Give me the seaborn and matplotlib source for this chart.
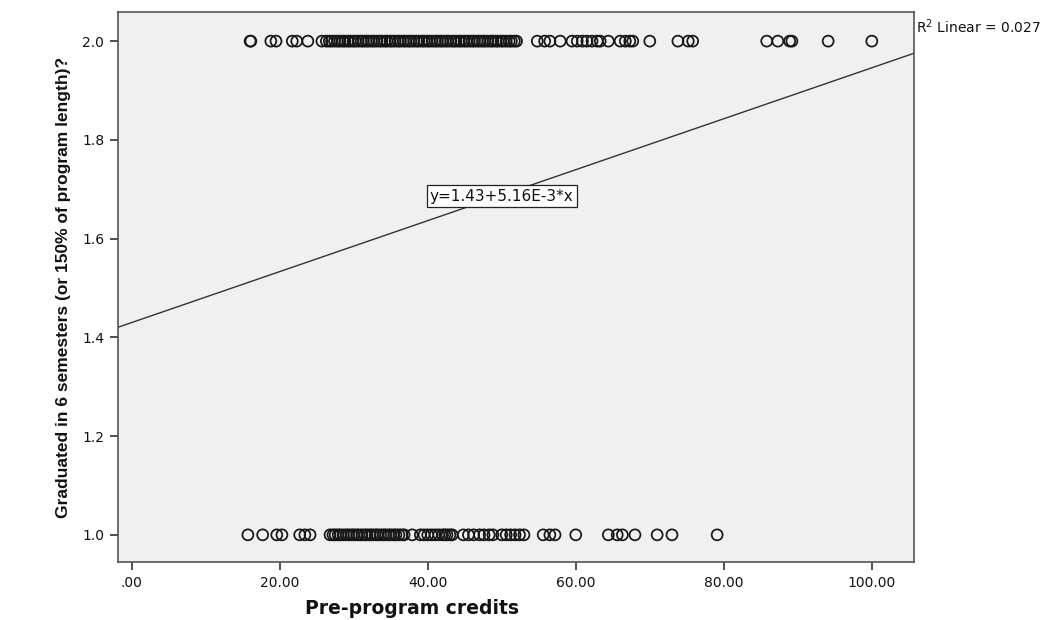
import matplotlib
matplotlib.use("Agg")
import matplotlib.pyplot as plt
from matplotlib import font_manager
import numpy as np
import pandas as pd
import seaborn as sns

# Pre-program credits of students who did not graduate within 150% of program length (coded 2)
credits_not_grad = [
    16.0, 16.1, 18.8, 19.5, 21.7, 22.3, 23.8, 25.7,
    26.3, 26.7, 27.0, 27.4, 27.8, 28.1, 28.5, 28.8, 29.2, 29.5, 29.9, 30.2, 30.6,
    31.0, 31.3, 31.7, 32.0, 32.4, 32.7, 33.1, 33.5, 33.8, 34.2, 34.5, 34.9, 35.2,
    35.6, 36.0, 36.3, 36.7, 37.0, 37.4, 37.7, 38.1, 38.5, 38.8, 39.2, 39.5, 39.9,
    40.2, 40.6, 41.0, 41.3, 41.7, 42.0, 42.4, 42.7, 43.1, 43.5, 43.8, 44.2, 44.5,
    44.9, 45.2, 45.6, 46.0, 46.3, 46.7, 47.0, 47.4, 47.7, 48.1, 48.5, 48.8, 49.2,
    49.5, 49.9, 50.2, 50.6, 51.0, 51.3, 51.7, 52.0,
    54.8, 55.8, 56.5, 57.9, 59.5, 60.2, 60.9, 61.5, 62.2, 62.9, 63.3, 64.4,
    66.0, 66.7, 67.3, 67.7, 70.0, 73.8, 75.2, 75.8, 85.8, 87.3, 88.9, 89.2,
    94.1, 100.0,
]

# Pre-program credits of students who graduated within 6 semesters (coded 1)
credits_grad = [
    15.7, 17.7, 19.6, 20.3, 22.7, 23.4, 24.1,
    26.8, 27.2, 27.5, 27.9, 28.2, 28.6, 29.0, 29.3, 29.7, 30.0, 30.4, 30.7, 31.1,
    31.5, 31.8, 32.2, 32.5, 32.9, 33.2, 33.6, 34.0, 34.3, 34.7, 35.0, 35.4, 35.7,
    36.1, 36.5, 36.8,
    37.9, 39.0, 39.5, 40.0, 40.5, 41.0, 41.5, 42.0, 42.3, 42.6, 43.0, 43.3,
    44.8, 45.5, 46.2, 47.0, 47.6, 48.3, 48.8,
    50.0, 50.6, 51.2, 51.8, 52.4, 53.0,
    55.6, 56.5, 57.2, 60.0, 64.4, 65.6, 66.3, 68.0, 71.0, 73.0, 79.1,
]

# Linear fit reported for the data
fit_intercept = 1.43
fit_slope = 5.16e-3
fit_r2 = 0.027

x_ticks = [0, 20, 40, 60, 80, 100]
x_tick_labels = [".00", "20.00", "40.00", "60.00", "80.00", "100.00"]
y_ticks = [1.0, 1.2, 1.4, 1.6, 1.8, 2.0]

df = pd.DataFrame({
    "credits": credits_not_grad + credits_grad,
    "graduated": [2.0] * len(credits_not_grad) + [1.0] * len(credits_grad),
})

sns.set_theme(style="white")
available = {f.name for f in font_manager.fontManager.ttflist}
plt.rcParams["font.family"] = ["DejaVu Sans"]
narrow = "Liberation Sans Narrow" if "Liberation Sans Narrow" in available else "Liberation Sans"

fig = plt.figure(figsize=(10.62, 6.2), dpi=100)
ax = fig.add_axes([118 / 1062, 1 - 562 / 620, (914 - 118) / 1062, (562 - 12) / 620])
ax.set_facecolor("#f0f0f0")

xlim = (-1.85, 105.7)
ylim = (0.945, 2.059)

sns.scatterplot(data=df, x="credits", y="graduated", ax=ax,
                marker="o", s=62, facecolor="none", edgecolor="#161616",
                linewidth=1.25, legend=False, zorder=3)

line_x = np.array(xlim)
line_df = pd.DataFrame({"x": line_x, "y": fit_intercept + fit_slope * line_x})
sns.lineplot(data=line_df, x="x", y="y", ax=ax, color="#333333", linewidth=1.0, zorder=2)

ax.set_xlim(*xlim)
ax.set_ylim(*ylim)
ax.set_xticks(x_ticks)
ax.set_xticklabels(x_tick_labels)
ax.set_yticks(y_ticks)
ax.set_yticklabels([f"{v:.1f}" for v in y_ticks])
ax.tick_params(axis="both", which="major", direction="out", length=6, width=1.2,
               color="#333333", labelsize=10, labelcolor="#111111",
               bottom=True, left=True, top=False, right=False, pad=4)

for side in ["left", "bottom", "right", "top"]:
    ax.spines[side].set_color("#555555")
    ax.spines[side].set_linewidth(1.2)

ax.set_xlabel("")
ax.set_ylabel("Graduated in 6 semesters (or 150% of program length)?",
              family=[narrow, "DejaVu Sans"], fontweight="bold", fontsize=12.5,
              color="#111111", labelpad=8)

fig.text(412 / 1062, 1 - 608 / 620, "Pre-program credits", ha="center", va="center",
         family=["DejaVu Sans"], fontweight="bold", fontsize=13.5, color="#111111")

ax.text(50.0, 1.686, f"y={fit_intercept:.2f}+{fit_slope * 1000:.2f}E-3*x",
        ha="center", va="center", fontsize=11, color="#111111", zorder=4,
        bbox=dict(boxstyle="square,pad=0.22", facecolor="white", edgecolor="#222222",
                  linewidth=0.9))

fig.text(916 / 1062, 1 - 27 / 620, f"R$^2$ Linear = {fit_r2:.3f}", ha="left", va="center",
         fontsize=10, color="#111111")

fig.savefig("out.png", dpi=100, facecolor="white")
